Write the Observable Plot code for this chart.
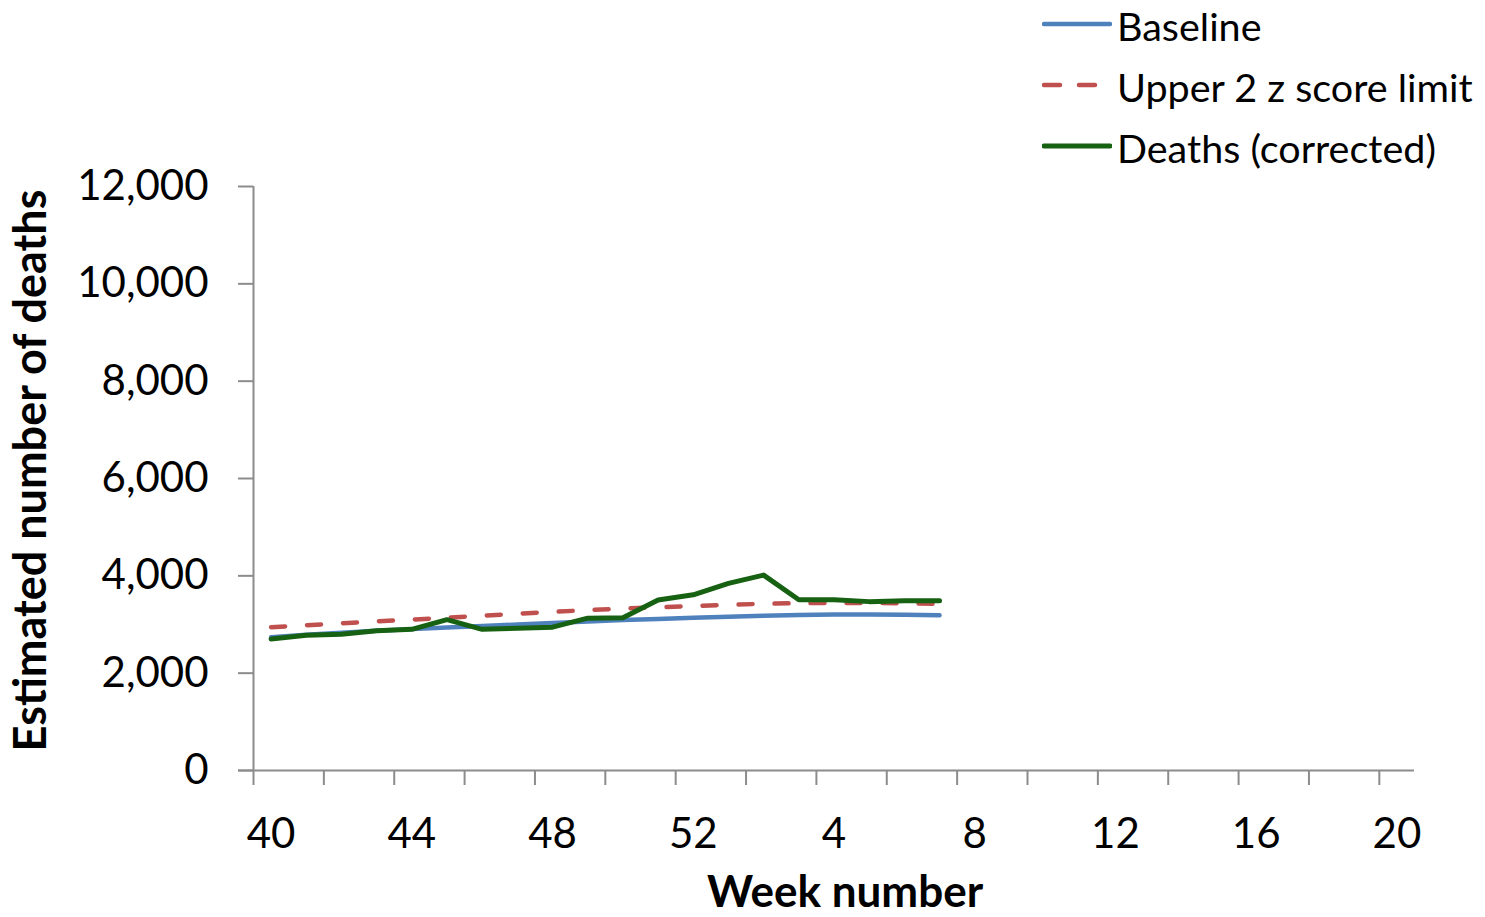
<!DOCTYPE html>
<html><head><meta charset="utf-8">
<script src="https://cdn.jsdelivr.net/npm/d3@7"></script>
<script src="https://cdn.jsdelivr.net/npm/@observablehq/plot@0.6"></script>
<style>
html,body{margin:0;padding:0;background:#fff;}
#wrap{position:relative;width:1485px;height:917px;font-family:Lato, sans-serif;overflow:hidden;}
#legend{position:absolute;left:1042px;top:0;width:443px;height:180px;}
.row{position:absolute;left:0;height:50px;display:flex;align-items:center;white-space:nowrap;font-size:39.5px;color:#000;font-family:Lato, sans-serif;}
.row span{line-height:1;}
.row svg{display:block;margin-right:5px;}
</style></head><body><div id="wrap"><div id="chart"></div><div id="legend"></div></div>
<script>
// Categories on the x axis (week numbers, season spanning the new year)
const categories = ["40","41","42","43","44","45","46","47","48","49","50","51","52",
  "1","2","3","4","5","6","7","8","9","10","11","12","13","14","15","16","17","18","19","20"];
// Series values for weeks 40..52, 1..7
const baseline   = [2740,2790,2830,2870,2905,2940,2970,3000,3030,3060,3090,3115,3140,3160,3180,3195,3205,3205,3200,3190];
const upperLimit = [2945,2985,3025,3065,3100,3140,3180,3220,3260,3295,3325,3355,3380,3405,3425,3438,3442,3442,3436,3425];
const deaths     = [2700,2780,2800,2870,2900,3100,2900,2925,2945,3130,3140,3505,3610,3845,4015,3510,3510,3470,3490,3490];
const yTicks = [0,2000,4000,6000,8000,10000,12000];
const seriesNames = ["Baseline","Upper 2 z score limit","Deaths (corrected)"];
const seriesColors = ["#4f81bd","#c0504d","#176112"];

const rows = baseline.map((b,i)=>({i, week:categories[i], baseline:b, upper:upperLimit[i], deaths:deaths[i]}));
const boundaryTicks = d3.range(-0.5, categories.length - 1, 2);
const labelTicks = d3.range(0, categories.length, 4);
const axisColor = "#8c8c8c";

const chart = Plot.plot({
  width:1485, height:917,
  marginLeft:253, marginRight:71, marginTop:186, marginBottom:147,
  style:{fontFamily:"Lato, sans-serif", fontSize:"41px", color:"#000", background:"white", overflow:"visible"},
  x:{type:"linear", domain:[-0.5, categories.length - 0.5]},
  y:{domain:[0,12000]},
  marks:[
    Plot.axisY({ticks:yTicks, tickSize:15, tickPadding:30, tickFormat:d3.format(","), stroke:axisColor, strokeWidth:2, fontSize:42, label:null}),
    Plot.axisX({ticks:boundaryTicks, tickSize:15, tickFormat:()=>"", stroke:axisColor, strokeWidth:2, label:null}),
    Plot.axisX({ticks:labelTicks, tickSize:0, tickPadding:48, tickFormat:i=>categories[i], fontSize:42, label:null}),
    Plot.ruleX([-0.5], {stroke:axisColor, strokeWidth:2}),
    Plot.ruleY([0], {stroke:axisColor, strokeWidth:2, insetLeft:-15}),
    Plot.line(rows, {x:"i", y:"baseline", stroke:seriesColors[0], strokeWidth:4.5, strokeLinecap:"round"}),
    Plot.line(rows, {x:"i", y:"upper", stroke:seriesColors[1], strokeWidth:4.5, strokeDasharray:"14,22", strokeLinecap:"round"}),
    Plot.line(rows, {x:"i", y:"deaths", stroke:seriesColors[2], strokeWidth:5, strokeLinejoin:"round", strokeLinecap:"round"}),
    Plot.text(["Week number"], {frameAnchor:"bottom", textAnchor:"middle", dy:122, dx:11, fontWeight:"bold", fontSize:44, lineAnchor:"middle"}),
    Plot.text(["Estimated number of deaths"], {frameAnchor:"left", textAnchor:"middle", rotate:-90, dx:-222, dy:-8, fontWeight:"bold", fontSize:45, lineAnchor:"middle"})
  ]
});
document.getElementById("chart").appendChild(chart);

// Legend (HTML, top right)
const legend = document.getElementById("legend");
const rowCenters = [26, 87, 148];
seriesNames.forEach((name, k) => {
  const row = document.createElement("div");
  row.className = "row";
  row.style.top = (rowCenters[k] - 25) + "px";
  const dash = k === 1 ? ' stroke-dasharray="16,19"' : '';
  row.innerHTML = `<svg width="70" height="10" style="margin-top:-4px"><line x1="2" y1="5" x2="68" y2="5" stroke="${seriesColors[k]}" stroke-width="${k===2?5:4.5}" stroke-linecap="round"${dash}/></svg><span>${name}</span>`;
  legend.appendChild(row);
});
</script></body></html>
